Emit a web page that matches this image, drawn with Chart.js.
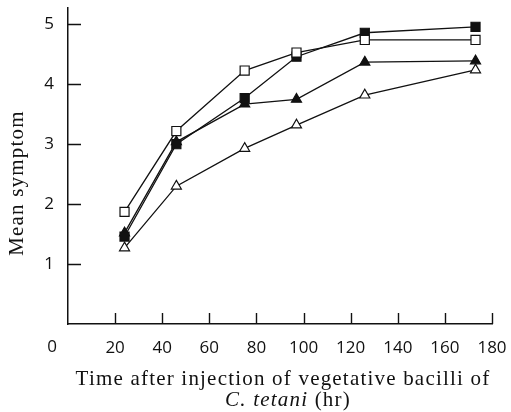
<!DOCTYPE html>
<html lang="en">
<head>
    <meta charset="UTF-8">
    <title>Mean symptom vs time</title>
    <script src="https://cdn.jsdelivr.net/npm/chart.js"></script>
    <style>
        body { margin: 0; background: #fff; }
        #wrap { width: 511px; height: 412px; }
    </style>
</head>
<body>
    <div id="wrap"><canvas id="chart" width="511" height="412"></canvas></div>
    <script>
        // hours after injection
        const hours = [24, 46, 75, 97, 126, 173];
        const openSquare = [1.87, 3.22, 4.23, 4.53, 4.74, 4.74];
        const filledSquare = [1.46, 3.0, 3.77, 4.46, 4.86, 4.96];
        const filledTriangle = [1.52, 3.04, 3.67, 3.75, 4.37, 4.39];
        const openTriangle = [1.27, 2.3, 2.93, 3.32, 3.82, 4.24];
        const xTicks = [20, 40, 60, 80, 100, 120, 140, 160, 180];
        const yTicks = [1, 2, 3, 4, 5];

        const ink = '#111';
        const tickFont = { family: 'Open Sans', size: 17 };

        function pts(ys) {
            return hours.map((h, i) => ({ x: h, y: ys[i] }));
        }
        function series(ys, style, fill, radius) {
            return {
                data: pts(ys),
                borderColor: ink,
                borderWidth: 1.3,
                pointStyle: style,
                pointRadius: radius,
                pointBackgroundColor: fill,
                pointBorderColor: ink,
                pointBorderWidth: 1.2,
                fill: false,
                tension: 0
            };
        }
        function noPad(s) {
            s.paddingLeft = 0; s.paddingRight = 0;
            s.paddingTop = 0; s.paddingBottom = 0;
        }

        // inner tick marks, "0" label and the axis titles
        const decor = {
            id: 'decor',
            afterDraw(chart) {
                const ctx = chart.ctx;
                const xs = chart.scales.x, ys = chart.scales.y;
                const a = chart.chartArea;
                ctx.save();
                ctx.strokeStyle = ink;
                ctx.lineWidth = 1.4;
                ctx.beginPath();
                yTicks.forEach(v => {
                    const y = Math.round(ys.getPixelForValue(v)) + 0.5;
                    ctx.moveTo(a.left, y);
                    ctx.lineTo(a.left + 13, y);
                });
                xTicks.forEach(v => {
                    const x = Math.round(xs.getPixelForValue(v)) + 0.5;
                    ctx.moveTo(x, a.bottom);
                    ctx.lineTo(x, a.bottom - 11);
                });
                ctx.stroke();

                ctx.fillStyle = ink;
                ctx.font = '17px "Open Sans"';
                ctx.textAlign = 'center';
                ctx.textBaseline = 'middle';
                ctx.fillText('0', 52, 347);

                ctx.letterSpacing = '1.2px';
                ctx.font = '21px "Liberation Serif"';
                ctx.textBaseline = 'alphabetic';
                ctx.fillText('Time after injection of vegetative bacilli of', 283, 385);

                const ital = 'italic 21px "Liberation Serif"';
                const norm = '21px "Liberation Serif"';
                ctx.font = ital;
                const w1 = ctx.measureText('C. tetani').width;
                ctx.font = norm;
                const w2 = ctx.measureText(' (hr)').width;
                let x0 = 288 - (w1 + w2) / 2;
                ctx.textAlign = 'left';
                ctx.font = ital;
                ctx.fillText('C. tetani', x0, 406);
                ctx.font = norm;
                ctx.fillText(' (hr)', x0 + w1, 406);

                ctx.translate(17, 183);
                ctx.rotate(-Math.PI / 2);
                ctx.textAlign = 'center';
                ctx.textBaseline = 'middle';
                ctx.fillText('Mean symptom', 0, 0);
                ctx.restore();
            }
        };

        new Chart(document.getElementById('chart'), {
            type: 'line',
            data: {
                datasets: [
                    series(openSquare, 'rect', '#fff', 6.4),
                    series(filledSquare, 'rect', ink, 6.4),
                    series(filledTriangle, 'triangle', ink, 5.8),
                    series(openTriangle, 'triangle', '#fff', 5.8)
                ]
            },
            options: {
                responsive: false,
                animation: false,
                layout: { padding: { top: 7, right: 19, bottom: 0, left: 0 } },
                plugins: { legend: { display: false }, tooltip: { enabled: false } },
                scales: {
                    x: {
                        type: 'linear',
                        min: 0,
                        max: 180,
                        afterBuildTicks: s => { s.ticks = xTicks.map(v => ({ value: v })); },
                        afterFit: s => { s.height = 88; noPad(s); },
                        grid: { display: false, drawTicks: false },
                        border: { display: true, color: ink, width: 1.5 },
                        ticks: { color: ink, font: tickFont, padding: 14, maxRotation: 0, autoSkip: false }
                    },
                    y: {
                        min: 0,
                        max: 5.28,
                        afterBuildTicks: s => { s.ticks = yTicks.map(v => ({ value: v })); },
                        afterFit: s => { s.width = 68; noPad(s); },
                        grid: { display: false, drawTicks: false },
                        border: { display: true, color: ink, width: 1.5 },
                        ticks: { color: ink, font: tickFont, padding: 14 }
                    }
                }
            },
            plugins: [decor]
        });
    </script>
</body>
</html>
